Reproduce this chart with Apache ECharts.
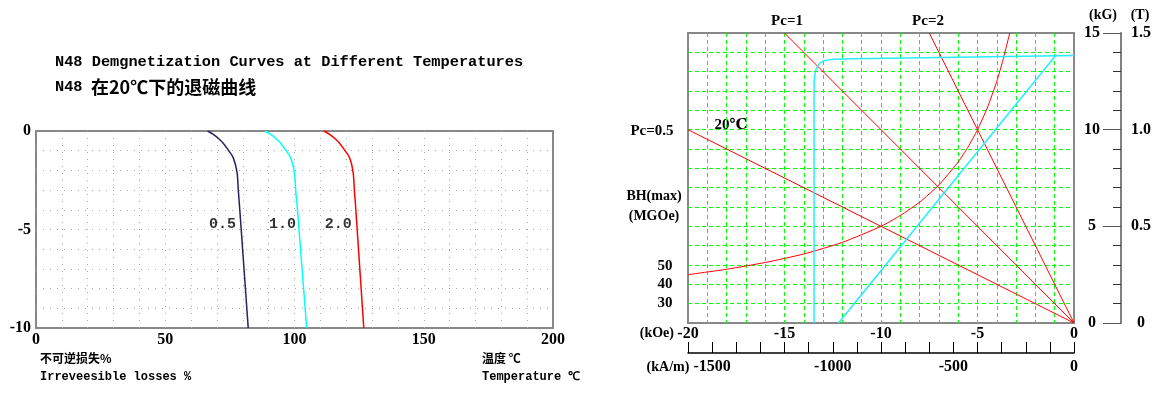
<!DOCTYPE html>
<html>
<head>
<meta charset="utf-8">
<title>N48 demagnetization curves</title>
<script src="https://cdn.jsdelivr.net/npm/echarts@6/dist/echarts.min.js"></script>
<style>
html, body { margin: 0; padding: 0; background: #fff; }
#chart { width: 1169px; height: 399px; }
</style>
</head>
<body>
<div id="chart"></div>
<script>
// ---- left chart: irreversible loss (%) vs temperature (C), one curve per Pc ----
const lossLevels = [0, -0.17, -0.37, -0.63, -0.97, -1.3, -1.64, -1.98, -2.23, -3.08, -3.76, -10];
const tempPc05 = [66.4, 68.6, 70.5, 72.5, 74.4, 76.1, 77.0, 77.6, 77.9, 78.3, 78.7, 82.1];
const tempPc10 = [88.6, 90.8, 92.7, 94.7, 96.6, 98.3, 99.2, 99.8, 100.1, 100.5, 101.0, 104.7];
const tempPc20 = [111.4, 113.6, 115.5, 117.5, 119.4, 121.1, 122.0, 122.5, 122.8, 123.2, 123.6, 126.8];
const curveNames = ['0.5', '1.0', '2.0'];
const curveLabelX = [72.1, 95.4, 116.9];
const curveLabelY = [-4.72, -4.72, -4.72];
const tempTicks = [0, 50, 100, 150, 200];
const lossTicks = [0, -5, -10];

// ---- right chart: B (kG) vs H (kOe) at 20 C ----
const pc05H = [-20, 0], pc05B = [10, 0];
const pc1H = [-15, 0], pc1B = [15, 0];
const pc2H = [-7.5, 0], pc2B = [15, 0];
const bhMaxH = [-20, -18, -16, -14, -12, -10, -9, -8, -7, -6, -5.5, -5, -4.5, -4, -3.67, -3.33];
const bhMaxB = [2.5, 2.78, 3.13, 3.57, 4.17, 5, 5.56, 6.25, 7.14, 8.33, 9.09, 10, 11.11, 12.5, 13.64, 15];
const jCurveH = [-13.47, -13.47, -13.46, -13.43, -13.37, -13.28, -13.15, -12.98, -12.75, -12.45, -11.5, -6, 0];
const jCurveB = [0, 12.0, 12.5, 12.85, 13.1, 13.3, 13.45, 13.55, 13.61, 13.64, 13.67, 13.75, 13.84];
const bCurveH = [-12.2, -0.96];
const bCurveB = [0, 13.82];
const hTicksKoe = [-20, -15, -10, -5, 0];
const hTicksKam = [-1500, -1000, -500, 0];
const bTicksKg = [0, 5, 10, 15];
const bTicksT = ['0', '0.5', '1.0', '1.5'];

const zip = (xs, ys) => xs.map((x, i) => [x, ys[i]]);

const numFont = "'Liberation Serif', 'DejaVu Serif', serif";
const monoFont = "'Liberation Mono', 'DejaVu Sans Mono', monospace";
const cjkFont = "'Noto Sans CJK SC', sans-serif";

const numLabel = (extra) => Object.assign({
  color: '#000', fontWeight: 'bold', fontSize: 16, fontFamily: numFont
}, extra);

function lineSeries(x, y, color, xi, yi, width, smooth) {
  return {
    type: 'line', data: zip(x, y), xAxisIndex: xi, yAxisIndex: yi,
    showSymbol: false, smooth: smooth || false, silent: true,
    lineStyle: { color: color, width: width }
  };
}

function txt(text, x, y, font, align) {
  return {
    type: 'text', x: x, y: y, silent: true,
    style: { text: text, font: font, fill: '#000', textAlign: align || 'left', textVerticalAlign: 'middle' }
  };
}

const chart = echarts.init(document.getElementById('chart'));

chart.setOption({
  animation: false,
  backgroundColor: '#fff',
  grid: [
    { left: 36, right: 616, top: 131, bottom: 71, show: true, borderColor: '#888', borderWidth: 2,
      containLabel: false, outerBoundsMode: 'none' },
    { left: 688, right: 95, top: 33, bottom: 76, show: true, borderColor: '#888', borderWidth: 2,
      containLabel: false, outerBoundsMode: 'none' }
  ],
  xAxis: [
    { gridIndex: 0, type: 'value', min: 0, max: 200, interval: 10,
      axisLine: { show: false }, axisTick: { show: false },
      splitLine: { show: true, showMinLine: false, showMaxLine: false,
        lineStyle: { color: '#aaa', type: [1, 6] } },
      axisLabel: numLabel({ margin: 4, formatter: v => tempTicks.includes(v) ? String(v) : '' }) },
    { gridIndex: 1, type: 'value', min: -20, max: 0, interval: 1,
      axisLine: { show: false }, axisTick: { show: false },
      splitLine: { show: true, showMinLine: false, showMaxLine: false,
        lineStyle: { color: '#00ff00', type: [4, 3] } },
      axisLabel: numLabel({ margin: 3, formatter: v => hTicksKoe.includes(v) ? String(v) : '' }) },
    { gridIndex: 1, type: 'value', min: -1600, max: 0, interval: 100, position: 'bottom', offset: 30,
      axisLine: { show: true, onZero: false, lineStyle: { color: '#000', width: 1.5 } },
      axisTick: { show: true, inside: true, length: 11, lineStyle: { color: '#000' } },
      splitLine: { show: false },
      axisLabel: numLabel({ margin: 6, formatter: v => hTicksKam.includes(v) ? String(v) : '' }) }
  ],
  yAxis: [
    { gridIndex: 0, type: 'value', min: -10, max: 0, interval: 1,
      axisLine: { show: false }, axisTick: { show: false },
      splitLine: { show: true, showMinLine: false, showMaxLine: false,
        lineStyle: { color: '#aaa', type: [1, 6] } },
      axisLabel: numLabel({ margin: 5, formatter: v => lossTicks.includes(v) ? String(v) : '' }) },
    { gridIndex: 1, type: 'value', min: 0, max: 15, interval: 1,
      axisLine: { show: false }, axisTick: { show: false }, axisLabel: { show: false },
      splitLine: { show: true, showMinLine: false, showMaxLine: false,
        lineStyle: { color: '#00ff00', type: [4, 3] } } },
    { gridIndex: 1, type: 'value', min: 0, max: 15, interval: 5, position: 'right', offset: 0,
      axisLine: { show: false }, axisTick: { show: false }, splitLine: { show: false },
      axisLabel: numLabel({ margin: 18, align: 'center',
        formatter: v => bTicksKg.includes(v) ? String(v) : '' }) },
    { gridIndex: 1, type: 'value', min: 0, max: 15, interval: 5, position: 'right', offset: 47,
      axisLine: { show: true, onZero: false, lineStyle: { color: '#808080', width: 2 } },
      axisTick: { show: true, inside: true, length: 18, lineStyle: { color: '#555' } },
      minorTick: { show: true, splitNumber: 5, length: 8, lineStyle: { color: '#333' } },
      splitLine: { show: false },
      axisLabel: numLabel({ margin: 20, align: 'center',
        formatter: v => { const i = bTicksKg.indexOf(v); return i >= 0 ? bTicksT[i] : ''; } }) }
  ],
  series: [
    lineSeries(tempPc05, lossLevels, '#2e1f5e', 0, 0, 1.5, 0.3),
    lineSeries(tempPc10, lossLevels, '#00ffff', 0, 0, 1.5, 0.3),
    lineSeries(tempPc20, lossLevels, '#ff0000', 0, 0, 1.5, 0.3),
    {
      type: 'scatter', xAxisIndex: 0, yAxisIndex: 0, silent: true,
      symbolSize: 1, itemStyle: { color: 'rgba(0,0,0,0)' },
      data: curveNames.map((n, i) => ({ name: n, value: [curveLabelX[i], curveLabelY[i]] })),
      label: { show: true, position: 'inside', formatter: '{b}', color: '#000',
        fontWeight: 'bold', fontSize: 15, fontFamily: monoFont }
    },
    lineSeries(pc05H, pc05B, '#ff0000', 1, 1, 1),
    lineSeries(pc1H, pc1B, '#ff0000', 1, 1, 1),
    lineSeries(pc2H, pc2B, '#ff0000', 1, 1, 1),
    lineSeries(bhMaxH, bhMaxB, '#ff0000', 1, 1, 1, 0.2),
    lineSeries(jCurveH, jCurveB, '#22eeff', 1, 1, 1.5),
    lineSeries(bCurveH, bCurveB, '#22eeff', 1, 1, 1.5)
  ],
  graphic: [
    txt('N48 Demgnetization Curves at Different Temperatures', 55, 62, 'bold 15.3px ' + monoFont),
    txt('N48', 55, 87, 'bold 15.3px ' + monoFont),
    txt('在20℃下的退磁曲线', 91, 87, 'bold 18px ' + cjkFont),
    txt('不可逆损失%', 40, 358, 'bold 12px ' + cjkFont),
    txt('Irreveesible losses %', 40, 377, 'bold 12px ' + monoFont),
    txt('温度 ℃', 482, 358, 'bold 12px ' + cjkFont),
    txt('Temperature ℃', 482, 377, 'bold 12px ' + monoFont),
    txt('Pc=1', 787, 21, 'bold 15px ' + numFont, 'center'),
    txt('Pc=2', 928, 21, 'bold 15px ' + numFont, 'center'),
    txt('Pc=0.5', 652, 131, 'bold 15px ' + numFont, 'center'),
    txt('20℃', 731, 125, 'bold 15px ' + numFont, 'center'),
    txt('BH(max)', 654, 196, 'bold 14px ' + numFont, 'center'),
    txt('(MGOe)', 654, 216, 'bold 14px ' + numFont, 'center'),
    txt('50', 665, 266, 'bold 15px ' + numFont, 'center'),
    txt('40', 665, 284, 'bold 15px ' + numFont, 'center'),
    txt('30', 665, 303, 'bold 15px ' + numFont, 'center'),
    txt('(kOe)', 674, 333, 'bold 14px ' + numFont, 'right'),
    txt('(kA/m)', 668, 367, 'bold 14px ' + numFont, 'center'),
    txt('(kG)', 1103, 15, 'bold 14px ' + numFont, 'center'),
    txt('(T)', 1140, 15, 'bold 14px ' + numFont, 'center')
  ]
});
</script>
</body>
</html>
